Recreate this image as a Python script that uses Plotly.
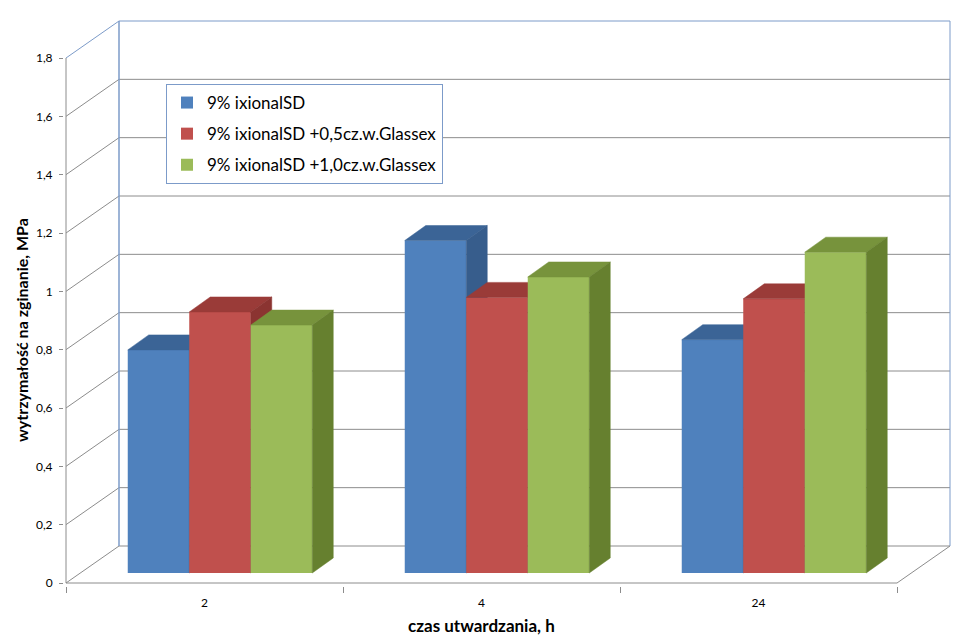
import plotly.graph_objects as go

# ---------------- data ----------------
categories = ["2", "4", "24"]
series_names = ["9% ixionalSD", "9% ixionalSD +0,5cz.w.Glassex", "9% ixionalSD +1,0cz.w.Glassex"]
values_ixional = [0.765, 1.14, 0.80]
values_glassex_05 = [0.895, 0.945, 0.94]
values_glassex_10 = [0.85, 1.015, 1.10]
y_tick_values = [0, 0.2, 0.4, 0.6, 0.8, 1.0, 1.2, 1.4, 1.6, 1.8]
y_tick_labels = ["0", "0,2", "0,4", "0,6", "0,8", "1", "1,2", "1,4", "1,6", "1,8"]
x_title = "czas utwardzania, h"
y_title = "wytrzymałość na zginanie, MPa"

series_values = [values_ixional, values_glassex_05, values_glassex_10]

# ---------------- styles ----------------
front_colors = ["#4F81BD", "#C0504D", "#9BBB59"]
top_colors = ["#3B6496", "#9A3B38", "#77933C"]
side_colors = ["#375D8C", "#8B3431", "#66802F"]
GRID = "#8C8C8C"
EDGE = "#7C9BC9"
FONT = "Lato"

W, H = 978, 639
PLOT_L, PLOT_R, PLOT_T, PLOT_B = 64, 953, 17, 586
X0PX, Y0PX = 66, 583          # pixel of front-left-bottom corner (-0.5, 0)
KX = 277.0                     # px per category
KY = 525.0 / 1.8               # px per value unit
WALL_DX, WALL_DY = 53, 37      # depth of chart walls, px
BAR_DX, BAR_DY = 15.5, 10      # bar front-plane offset, px
DEP_DX, DEP_DY = 21, 15        # bar depth, px
BAR_W_PX = 61.5

xr = [-0.5 - (X0PX - PLOT_L) / KX, -0.5 + (PLOT_R - X0PX) / KX]
yr = [-(PLOT_B - Y0PX) / KY, (Y0PX - PLOT_T) / KY]
wdx, wdy = WALL_DX / KX, WALL_DY / KY
bdx, bdy = BAR_DX / KX, BAR_DY / KY
ddx, ddy = DEP_DX / KX, DEP_DY / KY
BW = BAR_W_PX / KX
ncat = len(categories)
xpos = list(range(ncat))

fig = go.Figure()

for i, (name, vals) in enumerate(zip(series_names, series_values)):
    ax = str(i + 2)
    xa, ya = "x" + ax, "y" + ax
    off = (i - 1.5) * BW
    fig.add_trace(go.Bar(
        x=xpos, y=vals, width=BW, offset=off, name=name,
        marker=dict(color=front_colors[i], line=dict(width=0)),
        xaxis=xa, yaxis=ya, legendgroup="g%d" % i,
    ))
    tx, ty, sx, sy = [], [], [], []
    for c, v in zip(xpos, vals):
        xl = c + off
        xrr = xl + BW
        tx += [xl, xrr, xrr + ddx, xl + ddx, xl, None]
        ty += [v, v, v + ddy, v + ddy, v, None]
        sx += [xrr, xrr, xrr + ddx, xrr + ddx, xrr, None]
        sy += [0, v, v + ddy, ddy, 0, None]
    for px_, py_, col in [(tx, ty, top_colors[i]), (sx, sy, side_colors[i])]:
        fig.add_trace(go.Scatter(
            x=px_, y=py_, mode="lines", fill="toself", fillcolor=col,
            line=dict(width=0.5, color=col), hoverinfo="skip",
            showlegend=False, xaxis=xa, yaxis=ya, legendgroup="g%d" % i,
        ))

# ---------------- walls (axis decoration) ----------------
shapes = []
xl_front, xr_front = -0.5, ncat - 0.5
for k, v in enumerate(y_tick_values):
    top = k == len(y_tick_values) - 1
    col = EDGE if top else GRID
    shapes.append(dict(type="line", xref="x", yref="y", layer="below",
                       x0=xl_front + wdx, x1=xr_front + wdx, y0=v + wdy, y1=v + wdy,
                       line=dict(color=col, width=1)))
    shapes.append(dict(type="line", xref="x", yref="y", layer="below",
                       x0=xl_front, x1=xl_front + wdx, y0=v, y1=v + wdy,
                       line=dict(color=col, width=1)))
vmax = y_tick_values[-1]
shapes += [
    dict(type="line", xref="x", yref="y", layer="below", x0=xl_front + wdx, x1=xl_front + wdx,
         y0=wdy, y1=vmax + wdy, line=dict(color=EDGE, width=1.5)),
    dict(type="line", xref="x", yref="y", layer="below", x0=xr_front + wdx, x1=xr_front + wdx,
         y0=wdy, y1=vmax + wdy, line=dict(color=EDGE, width=1)),
    dict(type="line", xref="x", yref="y", layer="below", x0=xl_front, x1=xl_front,
         y0=0, y1=vmax, line=dict(color=GRID, width=1)),
    dict(type="line", xref="x", yref="y", layer="below", x0=xl_front, x1=xr_front,
         y0=0, y1=0, line=dict(color=GRID, width=1)),
    dict(type="line", xref="x", yref="y", layer="below", x0=xr_front, x1=xr_front + wdx,
         y0=0, y1=wdy, line=dict(color=GRID, width=1)),
]

layout = dict(
    width=W, height=H,
    margin=dict(l=PLOT_L, r=W - PLOT_R, t=PLOT_T, b=H - PLOT_B, pad=0),
    paper_bgcolor="white", plot_bgcolor="white",
    barmode="overlay",
    shapes=shapes,
    font=dict(family=FONT, color="#000000"),
    xaxis=dict(range=xr, tickmode="array", tickvals=xpos, ticktext=categories,
               showgrid=False, zeroline=False, showline=False, ticks="",
               ticklabelstandoff=8, tickfont=dict(size=12, family=FONT, color="#000"),
               minor=dict(tickmode="array", tickvals=[p - 0.5 for p in range(ncat + 1)],
                          ticks="outside", ticklen=6, tickcolor=GRID, showgrid=False)),
    yaxis=dict(range=yr, tickmode="array", tickvals=y_tick_values, ticktext=y_tick_labels,
               showgrid=False, zeroline=False, showline=False, ticks="outside",
               ticklen=4, tickcolor=GRID, ticklabelstandoff=4,
               tickfont=dict(size=12, family=FONT, color="#000")),
    legend=dict(x=(166 - PLOT_L) / (PLOT_R - PLOT_L), y=(PLOT_B - 84) / (PLOT_B - PLOT_T),
                xanchor="left", yanchor="top", bgcolor="white", bordercolor=EDGE,
                borderwidth=1, font=dict(size=17, family=FONT, color="#000"),
                tracegroupgap=6, traceorder="grouped"),
    annotations=[
        dict(text="<b>%s</b>" % y_title, xref="paper", yref="paper",
             x=(21 - PLOT_L) / (PLOT_R - PLOT_L), y=(PLOT_B - 330) / (PLOT_B - PLOT_T),
             textangle=-90, showarrow=False, xanchor="center", yanchor="middle",
             font=dict(size=16, family=FONT, color="#000")),
        dict(text="<b>%s</b>" % x_title, xref="x", yref="paper", x=1,
             y=(PLOT_B - 625) / (PLOT_B - PLOT_T), showarrow=False,
             xanchor="center", yanchor="middle",
             font=dict(size=17, family=FONT, color="#000")),
    ],
)
for i in range(len(series_names)):
    ax = str(i + 2)
    layout["xaxis" + ax] = dict(overlaying="x", anchor="y" + ax, visible=False,
                                range=[xr[0] - bdx, xr[1] - bdx])
    layout["yaxis" + ax] = dict(overlaying="y", anchor="x" + ax, visible=False,
                                range=[yr[0] - bdy, yr[1] - bdy])

fig.update_layout(**layout)
fig.write_html("out.html", config={"displayModeBar": False},
               post_script="document.body.style.margin='0';")
